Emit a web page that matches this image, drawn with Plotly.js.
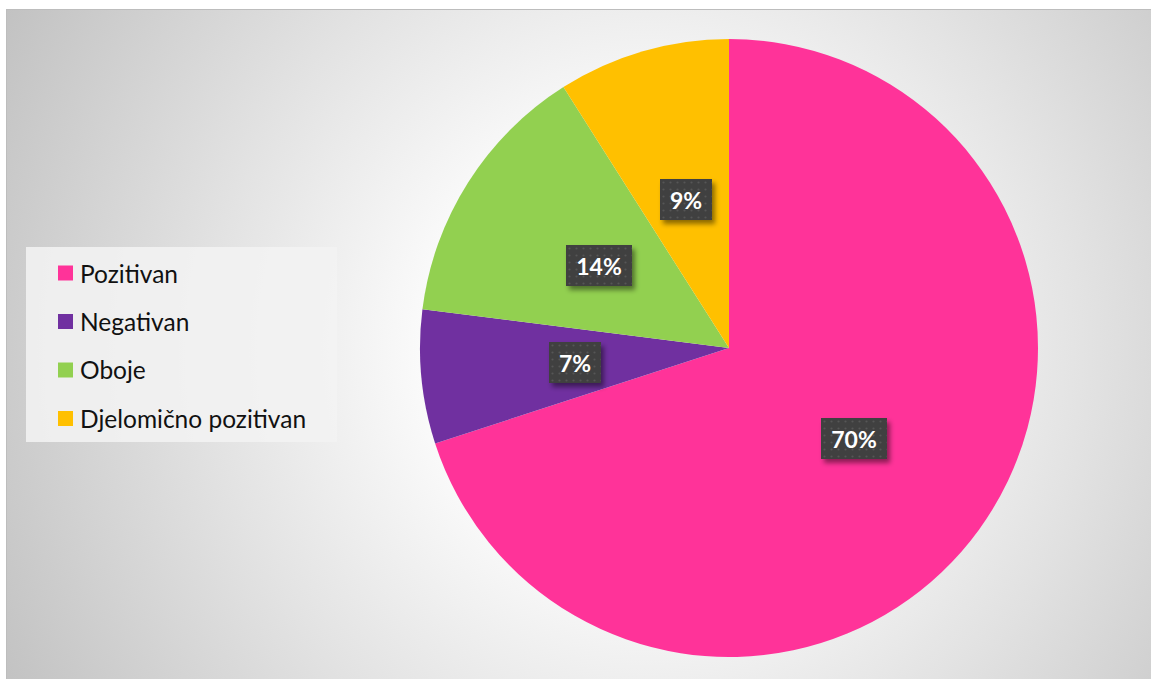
<!DOCTYPE html>
<html>
<head>
<meta charset="utf-8">
<script src="https://cdn.plot.ly/plotly-3.0.1.min.js"></script>
<style>
  html, body { margin: 0; padding: 0; background: #ffffff; width: 1151px; height: 679px; overflow: hidden; }
  #bg { position: absolute; left: 6px; top: 9px; width: 1145px; height: 670px; box-sizing: border-box;
        border-top: 1px solid #bdbdbd; border-left: 1px solid #bdbdbd;
        background: radial-gradient(circle farthest-corner at 640px 340px, #ffffff 0%, #fbfbfb 30%, #e3e3e3 60%, #c2c2c2 100%); }
  #chart { position: absolute; left: 0; top: 0; width: 1151px; height: 679px; }
  #defs { position: absolute; width: 0; height: 0; }
</style>
</head>
<body>
<svg id="defs" width="0" height="0">
  <defs>
    <pattern id="dots" width="7" height="7" patternUnits="userSpaceOnUse">
      <rect width="7" height="7" fill="#404040"></rect>
      <circle cx="3.5" cy="3.5" r="1.1" fill="#565656"></circle>
    </pattern>
    <filter id="shadow" x="-30%" y="-30%" width="160%" height="170%">
      <feDropShadow dx="3" dy="4" stdDeviation="2.5" flood-color="#000000" flood-opacity="0.45"></feDropShadow>
    </filter>
  </defs>
</svg>
<div id="bg"></div>
<div id="chart"></div>
<script>
// ---- data ----
var categories = ["Pozitivan", "Negativan", "Oboje", "Djelomično pozitivan"];
var values = [70, 7, 14, 9];
var colors = ["#FF3399", "#7030A0", "#92D050", "#FFC000"];

// ---- layout constants ----
var W = 1151, H = 679;
var domX = [420 / W, 1038 / W];
var domY = [1 - 657 / H, 1 - 39 / H];
var labelFont = 'Lato, "Open Sans", sans-serif';

var total = values.reduce(function (a, b) { return a + b; }, 0);

// pie geometry (pixels) from the domain
var cxPx = (domX[0] + domX[1]) / 2 * W;
var cyPx = (1 - (domY[0] + domY[1]) / 2) * H;
var rPx = Math.min((domX[1] - domX[0]) * W, (domY[1] - domY[0]) * H) / 2;

// measure text for label boxes
var cvs = document.createElement('canvas');
var ctx = cvs.getContext('2d');
ctx.font = 'bold 23px Lato';

var annotations = [];
var cum = 0;
values.forEach(function (v, i) {
  var f = (cum + v / 2) / total;
  cum += v;
  var th = 2 * Math.PI * f;
  var px = cxPx + 0.5 * rPx * Math.sin(th);
  var py = cyPx - 0.5 * rPx * Math.cos(th);
  var txt = Math.round(v / total * 100) + '%';
  var tw = ctx.measureText(txt).width;
  annotations.push({
    xref: 'paper', yref: 'paper', x: px / W, y: 1 - py / H,
    xanchor: 'center', yanchor: 'middle', showarrow: false,
    text: '<b>' + txt + '</b>',
    font: { family: labelFont, size: 23, color: '#ffffff' },
    bgcolor: '#404040', borderwidth: 0, borderpad: 0,
    width: Math.round(tw + 20), height: 41
  });
});

// custom legend
var shapes = [{
  type: 'rect', xref: 'paper', yref: 'paper',
  x0: 26 / W, x1: 337 / W, y0: 1 - 442 / H, y1: 1 - 247 / H,
  fillcolor: 'rgba(243,243,243,0.88)', line: { width: 0 }, layer: 'below'
}];
var legTop = 273, legStep = 48.5;
categories.forEach(function (c, i) {
  var yc = legTop + i * legStep;
  shapes.push({
    type: 'rect', xref: 'paper', yref: 'paper',
    x0: 58 / W, x1: 73 / W, y0: 1 - (yc + 7.5) / H, y1: 1 - (yc - 7.5) / H,
    fillcolor: colors[i], line: { width: 0 }
  });
  annotations.push({
    xref: 'paper', yref: 'paper', x: 78 / W, y: 1 - yc / H,
    xanchor: 'left', yanchor: 'middle', showarrow: false,
    text: c, font: { family: labelFont, size: 24.5, color: '#111111' }
  });
});

var data = [{
  type: 'pie',
  labels: categories,
  values: values,
  marker: { colors: colors, line: { width: 0 } },
  sort: false,
  direction: 'clockwise',
  rotation: 0,
  textinfo: 'none',
  textposition: 'none',
  hoverinfo: 'skip',
  showlegend: false,
  domain: { x: domX, y: domY }
}];

var layout = {
  width: W, height: H,
  margin: { l: 0, r: 0, t: 0, b: 0 },
  paper_bgcolor: 'rgba(0,0,0,0)',
  plot_bgcolor: 'rgba(0,0,0,0)',
  showlegend: false,
  annotations: annotations,
  shapes: shapes
};

Plotly.newPlot('chart', data, layout, { displayModeBar: false, staticPlot: true }).then(function () {
  var groups = document.querySelectorAll('#chart g.annotation');
  groups.forEach(function (g) {
    var idx = parseInt(g.getAttribute('data-index'), 10);
    if (idx < values.length) {
      var r = g.querySelector('rect.bg');
      if (r) {
        r.style.fill = 'url(#dots)';
        r.setAttribute('filter', 'url(#shadow)');
      }
    }
  });
});
</script>
</body>
</html>
